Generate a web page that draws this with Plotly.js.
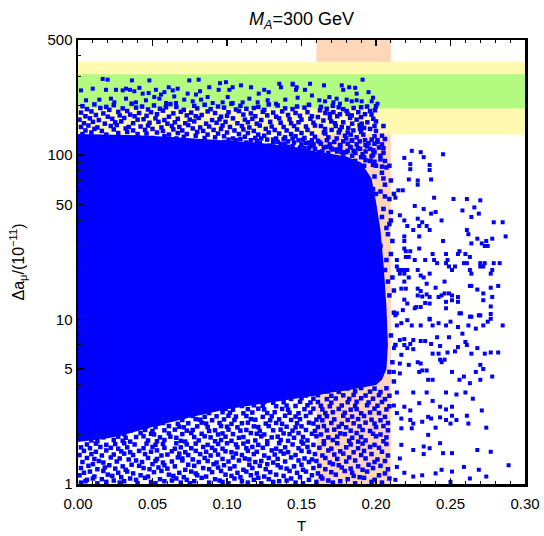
<!DOCTYPE html>
<html>
<head>
<meta charset="utf-8">
<script src="https://cdn.plot.ly/plotly-3.0.1.min.js"></script>
<style>html,body{margin:0;padding:0;background:#fff;}#chart{width:544px;height:536px;}</style>
</head>
<body>
<div id="chart"></div>
<script>
// Experimental bands for Delta a_mu (in 10^-11)
const band1sigma = [192, 310];
const band2sigma = [133, 369];
// T band
const tBand = [0.16, 0.21];

// Outline of the saturated (fully covered) region of the scan
const coreOutline = [
  [0,134],[0.02,133],[0.04,132],[0.06,129],[0.08,126],[0.10,123],[0.12,119],[0.14,113],[0.15,109],[0.16,105],
  [0.17,102],[0.18,98],[0.19,90],[0.197,72],[0.2,52],[0.203,35],[0.205,22],[0.207,12],[0.208,7],[0.207,5],
  [0.204,4.3],[0.2,4.0],[0.19,3.85],[0.18,3.7],[0.17,3.6],[0.16,3.45],[0.15,3.35],[0.14,3.25],[0.12,3.05],[0.10,2.85],
  [0.08,2.6],[0.06,2.35],[0.04,2.1],[0.03,1.98],[0.02,1.9],[0.01,1.84],[0,1.8]
];

// Upper fringe points (green band)
const topGreen = [
  [0.0166,290],[0.0199,287],[0.0362,284],[0.0479,284],[0.0747,284],[0.081,287],[0.0953,273],[0.0993,277],[0.002,247],[0.0099,253],
  [0.0188,249],[0.0255,249],[0.030,247],[0.0322,253],[0.0349,249],[0.0378,244],[0.0412,256],[0.0434,236],[0.0474,238],[0.0523,249],
  [0.0557,233],[0.058,241],[0.0609,258],[0.0636,247],[0.0669,253],[0.0736,236],[0.0792,233],[0.0819,244],[0.0881,258],[0.0944,249],
  [0.1016,249],[0.1038,258],[0.1094,265],[0.1161,258],[0.1213,236],[0.125,249],[0.128,241],[0.1351,271],[0.1362,258],[0.1441,268],
  [0.1463,249],[0.0054,215],[0.0143,217],[0.0221,220],[0.0244,209],[0.0322,220],[0.0389,209],[0.0456,215],[0.0512,225],[0.0546,220],
  [0.0591,207],[0.0646,227],[0.0658,207],[0.0713,217],[0.077,212],[0.0826,217],[0.087,225],[0.0904,207],[0.0971,209],[0.1005,225],
  [0.1038,207],[0.1105,209],[0.115,220],[0.1206,209],[0.1273,215],[0.1329,205],[0.1391,217],[0.1474,223],
  [0.1441,271],[0.1468,258],[0.1523,249],[0.1557,271],[0.1651,265],[0.177,265],[0.178,249],[0.182,258],[0.186,256],[0.187,236],
  [0.191,287],[0.195,241],[0.198,223],[0.201,205],[0.157,230],[0.162,215],[0.1658,212],[0.1687,225],[0.1714,209],[0.1736,220],
  [0.1758,205],[0.1803,217],[0.1837,212],[0.187,215],[0.1904,212],[0.1971,212]
];

// Upper fringe points (between the saturated region and the green band)
const topFringe = [
  [0.003,198],[0.011,203],[0.019,196],[0.024,201],[0.036,205],[0.043,197],[0.051,200],[0.062,204],[0.066,196],[0.078,199],
  [0.085,202],[0.094,197],[0.103,205],[0.109,199],[0.121,196],[0.128,203],[0.134,200],[0.147,197],[0.155,202],
  [0.006,190],[0.015,193],[0.021,188],[0.030,192],[0.039,194],[0.047,189],[0.055,191],[0.059,195],[0.071,188],[0.080,192],
  [0.089,190],[0.098,194],[0.106,189],[0.113,191],[0.118,193],[0.125,188],[0.139,192],[0.144,190],[0.152,194],
  [0.002,181],[0.009,184],[0.017,179],[0.027,183],[0.033,185],[0.041,180],[0.049,182],[0.057,186],[0.064,179],[0.069,183],
  [0.076,181],[0.087,184],[0.092,180],[0.101,182],[0.108,185],[0.116,179],[0.124,183],[0.131,181],[0.137,184],[0.146,180],[0.154,182],
  [0.005,172],[0.012,175],[0.020,171],[0.028,174],[0.035,176],[0.038,172],[0.046,173],[0.053,177],[0.061,171],[0.073,174],
  [0.079,172],[0.083,175],[0.096,171],[0.100,173],[0.111,176],[0.119,172],[0.127,174],[0.133,171],[0.141,175],[0.149,173],[0.157,172],
  [0.001,164],[0.008,167],[0.014,163],[0.023,166],[0.031,168],[0.040,164],[0.044,165],[0.052,167],[0.058,163],[0.067,166],
  [0.075,164],[0.081,168],[0.090,163],[0.095,165],[0.104,167],[0.112,164],[0.117,166],[0.123,163],[0.135,167],[0.142,165],[0.150,164],[0.156,166],
  [0.004,156],[0.010,159],[0.018,155],[0.025,158],[0.029,160],[0.037,156],[0.048,157],[0.054,159],[0.060,155],[0.065,158],
  [0.072,156],[0.078,160],[0.086,155],[0.093,157],[0.099,159],[0.107,156],[0.114,158],[0.120,155],[0.129,159],[0.136,157],[0.143,156],[0.148,158],[0.158,157],
  [0.002,148],[0.007,151],[0.013,147],[0.022,150],[0.026,152],[0.034,148],[0.042,149],[0.047,151],[0.056,147],[0.063,150],
  [0.068,148],[0.074,152],[0.082,147],[0.088,149],[0.097,151],[0.102,148],[0.110,150],[0.115,147],[0.122,151],[0.130,149],[0.138,148],[0.145,150],[0.153,149],[0.159,151],
  [0.005,141],[0.011,144],[0.016,140],[0.024,143],[0.032,145],[0.037,141],[0.045,142],[0.050,144],[0.057,140],[0.064,143],
  [0.070,141],[0.077,145],[0.084,140],[0.091,142],[0.096,144],[0.105,141],[0.111,143],[0.118,140],[0.126,144],[0.132,142],[0.140,141],[0.147,143],[0.154,142],
  [0.003,134],[0.009,137],[0.019,133],[0.027,136],[0.033,138],[0.040,134],[0.046,135],[0.053,137],[0.061,133],[0.067,136],
  [0.073,134],[0.080,138],[0.087,133],[0.094,135],[0.100,137],[0.108,134],[0.114,136],[0.121,133],[0.128,137],[0.135,135],[0.143,134],[0.150,136],[0.157,135],
  [0.050,127],[0.058,130],[0.066,126],[0.071,129],[0.079,131],[0.085,127],[0.092,128],[0.098,130],[0.104,126],[0.112,129],
  [0.119,127],[0.125,131],[0.133,126],[0.139,128],[0.146,130],[0.152,127],[0.159,129],
  [0.098,120],[0.106,123],[0.113,119],[0.120,122],[0.127,124],[0.134,120],[0.141,121],[0.148,123],[0.155,119],
  [0.128,114],[0.136,117],[0.144,113],[0.150,116],[0.158,115],[0.147,108],[0.155,110],
  [0.101,124],[0.109,125],[0.116,123],[0.123,126],[0.131,124],[0.138,125],[0.144,126],[0.151,124],[0.157,123],
  [0.122,118],[0.131,119],[0.139,117],[0.145,119],[0.153,118],[0.141,112],[0.149,111],[0.156,113]
];

// Points in the T band above / beside the saturated region
const bandPts = [
  [0.1624,187],[0.1669,191],[0.1714,182],[0.1758,177],[0.1803,185],[0.1837,174],[0.1881,182],[0.1926,177],[0.196,185],[0.1993,187],
  [0.1647,162],[0.1691,168],[0.1725,156],[0.178,158],[0.1826,168],[0.187,164],[0.1904,155],[0.1942,158],[0.1982,166],[0.1658,144],
  [0.1702,142],[0.1758,142],[0.1814,146],[0.1848,141],[0.1893,144],[0.1915,133],[0.196,144],[0.2,140],[0.168,128],[0.1736,126],
  [0.1792,131],[0.1837,123],[0.187,128],[0.1926,123],[0.1971,124],[0.2009,120],[0.1669,112],[0.1758,114],[0.1826,112],[0.1893,109],
  [0.1982,107],[0.164,105],[0.171,108],[0.177,104],[0.185,106],[0.191,101],[0.194,113],[0.205,110],[0.162,120],[0.166,135],
  [0.173,150],[0.181,137],[0.189,152],[0.199,150],[0.204,131],[0.161,170],[0.169,178],[0.185,193],[0.194,197],[0.175,195],
  [0.163,196],[0.171,199],[0.178,190],[0.190,195],[0.200,198],[0.166,180],[0.174,172],[0.181,178],[0.190,170],[0.197,176],
  [0.163,150],[0.170,160],[0.177,148],[0.184,155],[0.192,146],[0.200,160],[0.205,150],[0.165,137],[0.175,137],[0.183,133],
  [0.190,138],[0.199,130],[0.206,125],[0.172,120],[0.180,126],[0.195,118],
  [0.161,122],[0.167,123],[0.178,121],[0.184,122],[0.189,121],[0.201,123],
  [0.158,116],[0.163,117],[0.169,116],[0.176,115],[0.181,117],[0.187,116],[0.193,115],[0.199,117],[0.204,116],
  [0.152,110],[0.159,109],[0.165,111],[0.170,110],[0.176,109],[0.183,111],[0.188,110],[0.196,109],[0.202,111],
  [0.162,104],[0.168,103],[0.174,105],[0.180,104],[0.186,103],[0.193,105],[0.199,104],[0.205,103],
  [0.178,98],[0.184,99],[0.190,97],[0.197,98],[0.203,99],[0.186,92],[0.193,93],[0.199,91],[0.206,92],
  [0.192,86],[0.198,87],[0.204,85],[0.209,86],
  [0.196,92],[0.2,86],[0.204,78],[0.199,74],[0.206,66],[0.203,60],[0.209,54],[0.205,47],[0.21,40],[0.207,36],
  [0.211,30],[0.192,97],[0.186,103],[0.181,106],[0.174,108],[0.198,100],[0.203,94],[0.207,84],[0.21,70],[0.212,58],
  [0.205,72],[0.198,62],[0.206,56],[0.2,58],[0.21,45],[0.204,42],[0.208,33],[0.203,28],[0.21,25],[0.206,20],
  [0.211,18],[0.209,14],[0.212,11],[0.21,8],[0.213,7],[0.211,5.5],[0.209,4.8],[0.212,4.2],[0.209,38],[0.207,23],
  [0.208,17],[0.212,15]
];

// Sparse points with T > 0.21
const rightPts = [
  [0.219,96],[0.224,106],[0.230,104],[0.232,97],[0.245,101],[0.223,88],[0.223,82],[0.236,87],[0.236,81],[0.222,71],
  [0.228,70],[0.228,66],[0.237,71],[0.215,61],[0.218,61],[0.239,55],[0.252,54],[0.261,54],[0.270,53],[0.213,55],
  [0.226,49],[0.232,47],[0.237,44],[0.240,45],[0.258,46],[0.266,48],[0.269,44],[0.216,43],[0.244,40],[0.264,42],
  [0.279,39],[0.285,39],[0.287,32],[0.219,40],[0.221,37],[0.228,41],[0.231,39],[0.225,35],[0.229,37],[0.234,37],
  [0.236,35],[0.219,32],[0.219,30],[0.229,32],[0.245,30],[0.261,35],[0.262,33],[0.268,31],[0.274,30],[0.271,29],
  [0.273,28],[0.275,28],[0.264,29],[0.278,31],[0.219,27],[0.220,26],[0.223,26],[0.229,27],[0.214,23],[0.220,24],
  [0.222,24],[0.226,23],[0.233,23],[0.238,25],[0.239,23],[0.241,22],[0.247,25],[0.248,23],[0.256,26],[0.255,25],
  [0.260,25],[0.263,24],[0.253,21],[0.251,20],[0.247,22],[0.249,21],[0.259,22],[0.261,22],[0.270,22],[0.273,22],
  [0.270,21],[0.279,22],[0.283,22],[0.278,20],[0.214,21],[0.215,20],[0.217,20],[0.219,20],[0.221,20],[0.216,19],
  [0.219,19],[0.222,18],[0.228,20],[0.230,18.5],[0.232,18],[0.236,19],[0.234,16.5],[0.246,17],[0.263,20],[0.264,19],
  [0.264,16],[0.272,21],[0.277,19],[0.282,16],[0.277,15.6],[0.219,17],[0.217,15.4],[0.220,15.4],[0.228,15.4],[0.230,14.9],
  [0.228,14],[0.231,13.8],[0.234,14.2],[0.236,13.7],[0.240,15.6],[0.242,13.7],[0.244,14],[0.246,14.4],[0.249,14.4],[0.251,14],
  [0.247,12.8],[0.251,13.1],[0.255,13.7],[0.255,12.8],[0.219,13.2],[0.221,12.5],[0.227,11.9],[0.230,11.9],[0.233,12.6],[0.236,12.5],
  [0.247,11.7],[0.257,10.9],[0.263,10.4],[0.269,10.6],[0.277,10.8],[0.277,12],[0.278,13.7],[0.272,14.4],[0.268,15.2],[0.263,16],
  [0.272,13.1],[0.214,10.9],[0.218,11.4],[0.226,11.7],[0.236,10.1],
  [0.213,10.6],[0.214,9.2],[0.217,9.5],[0.221,9.9],[0.224,9.2],[0.230,9.2],[0.236,10],[0.238,9.2],[0.242,9.5],[0.247,9.2],
  [0.250,9.7],[0.256,10.9],[0.255,9.0],[0.258,8.2],[0.262,9.2],[0.264,10.4],[0.270,10.6],[0.267,8.8],[0.272,9.2],[0.275,9.7],
  [0.277,10.1],[0.285,9.2],
  [0.216,7.5],[0.219,7.6],[0.223,7.1],[0.225,7.5],[0.230,7.4],[0.233,7.4],[0.237,7.1],[0.241,7.8],[0.243,6.9],[0.249,7.8],
  [0.255,6.8],[0.261,7.0],[0.260,7.3],[0.264,6.2],[0.268,6.7],[0.273,6.2],[0.277,6.3],[0.282,6.3],[0.219,7.0],[0.225,6.6],
  [0.221,6.7],[0.212,6.7],
  [0.228,5.5],[0.230,5.4],[0.231,4.9],[0.229,4.8],[0.234,4.9],[0.235,4.3],[0.238,4.3],[0.238,6.2],[0.243,5.7],[0.246,5.7],
  [0.244,5.5],[0.242,6.2],[0.248,6.3],[0.251,4.8],[0.256,4.3],[0.259,4.5],[0.263,4.1],[0.267,4.8],[0.270,5.3],[0.270,4.3],
  [0.272,5.0],[0.278,4.5],[0.217,6.1],[0.216,5.4],[0.212,4.8],[0.216,4.7],[0.222,5.3],[0.253,6.4],
  [0.225,3.6],[0.229,3.1],[0.234,3.6],[0.238,3.2],[0.243,2.95],[0.247,3.6],[0.251,2.95],[0.254,3.5],[0.260,3.6],[0.265,3.3],
  [0.271,2.8],[0.214,3.6],[0.212,3.0],[0.219,2.95],[0.223,2.8],
  [0.214,2.7],[0.217,2.5],[0.223,2.45],[0.225,2.33],[0.231,2.39],[0.235,2.56],[0.237,2.5],[0.243,2.54],[0.247,2.45],[0.251,2.6],
  [0.247,2.84],[0.254,2.45],[0.261,2.6],[0.262,2.33],[0.274,2.2],[0.217,2.18],[0.224,2.18],[0.240,2.2],[0.235,1.99],[0.250,2.33],
  [0.217,1.73],[0.225,1.61],[0.232,1.69],[0.232,1.52],[0.236,1.65],[0.243,1.77],[0.245,1.54],[0.251,1.54],[0.268,1.61],[0.277,1.57],
  [0.289,1.30],[0.216,1.43],[0.214,1.27],[0.219,1.17],[0.225,1.11],[0.231,1.13],[0.240,1.16],[0.244,1.22],[0.250,1.03],[0.251,1.19],
  [0.259,1.27],[0.263,1.08],[0.269,1.22],[0.274,1.11],[0.213,1.06]
];

// Lower fringe points (below the saturated region)
const bottomPts = [
  [0.002,1.02],[0.005,1.04],[0.013,1.01],[0.019,1.03],[0.028,1.02],[0.031,1.04],[0.040,1.01],[0.049,1.03],[0.052,1.01],[0.058,1.04],
  [0.069,1.02],[0.075,1.01],[0.078,1.04],[0.088,1.02],[0.097,1.03],[0.101,1.01],[0.110,1.04],[0.114,1.02],[0.123,1.01],[0.131,1.03],
  [0.135,1.04],[0.146,1.02],[0.151,1.01],[0.160,1.03],[0.171,1.02],[0.176,1.04],[0.186,1.01],[0.197,1.03],[0.204,1.02],
  [0.006,1.06],[0.010,1.08],[0.016,1.07],[0.024,1.05],[0.035,1.08],[0.039,1.06],[0.045,1.09],[0.055,1.07],[0.063,1.05],[0.066,1.08],
  [0.073,1.06],[0.083,1.09],[0.092,1.07],[0.095,1.05],[0.105,1.08],[0.118,1.06],[0.121,1.09],[0.128,1.07],[0.140,1.05],[0.143,1.08],
  [0.155,1.06],[0.164,1.08],[0.168,1.05],[0.181,1.07],[0.192,1.09],[0.199,1.06],[0.209,1.08],
  [0.001,1.13],[0.011,1.11],[0.020,1.14],[0.023,1.12],[0.029,1.10],[0.042,1.13],[0.047,1.11],[0.061,1.14],[0.064,1.12],[0.071,1.10],
  [0.080,1.13],[0.086,1.11],[0.099,1.14],[0.103,1.12],[0.109,1.10],[0.116,1.13],[0.125,1.11],[0.133,1.14],[0.138,1.12],[0.149,1.10],
  [0.157,1.13],[0.163,1.11],[0.173,1.14],[0.185,1.12],[0.189,1.10],[0.202,1.13],
  [0.004,1.17],[0.008,1.19],[0.017,1.20],[0.027,1.17],[0.033,1.19],[0.037,1.16],[0.051,1.18],[0.056,1.20],[0.068,1.17],[0.076,1.19],
  [0.079,1.16],[0.090,1.18],[0.096,1.20],[0.107,1.17],[0.113,1.19],[0.120,1.16],[0.129,1.18],[0.142,1.20],[0.147,1.17],[0.153,1.19],
  [0.161,1.16],[0.170,1.18],[0.179,1.20],[0.184,1.17],[0.194,1.19],[0.206,1.16],
  [0.002,1.25],[0.013,1.23],[0.018,1.26],[0.025,1.24],[0.032,1.22],[0.044,1.25],[0.048,1.23],[0.054,1.26],[0.060,1.24],[0.072,1.22],
  [0.084,1.25],[0.088,1.23],[0.094,1.26],[0.102,1.24],[0.111,1.22],[0.117,1.25],[0.126,1.23],[0.136,1.26],[0.140,1.24],[0.151,1.22],
  [0.158,1.25],[0.166,1.23],[0.177,1.26],[0.183,1.24],[0.191,1.22],[0.198,1.25],[0.208,1.23],
  [0.007,1.29],[0.010,1.32],[0.021,1.30],[0.030,1.28],[0.036,1.31],[0.041,1.29],[0.050,1.32],[0.058,1.30],[0.065,1.28],[0.074,1.31],
  [0.078,1.29],[0.091,1.32],[0.098,1.30],[0.105,1.28],[0.115,1.31],[0.122,1.29],[0.127,1.32],[0.134,1.30],[0.145,1.28],[0.150,1.31],
  [0.162,1.29],[0.171,1.32],[0.175,1.30],[0.188,1.28],[0.195,1.31],[0.203,1.29],
  [0.003,1.36],[0.014,1.38],[0.017,1.35],[0.026,1.37],[0.039,1.39],[0.043,1.36],[0.052,1.38],[0.057,1.35],[0.063,1.37],[0.070,1.39],
  [0.081,1.36],[0.087,1.38],[0.093,1.35],[0.101,1.37],[0.108,1.39],[0.119,1.36],[0.123,1.38],[0.131,1.35],[0.139,1.37],[0.148,1.39],
  [0.155,1.36],[0.160,1.38],[0.169,1.35],[0.180,1.37],[0.186,1.39],[0.199,1.36],[0.206,1.38],
  [0.006,1.44],[0.011,1.42],[0.022,1.45],[0.028,1.43],[0.034,1.41],[0.047,1.44],[0.053,1.42],[0.067,1.45],[0.070,1.43],[0.077,1.41],
  [0.085,1.44],[0.097,1.42],[0.104,1.45],[0.112,1.43],[0.115,1.41],[0.128,1.44],[0.134,1.42],[0.143,1.45],[0.152,1.43],[0.157,1.41],
  [0.166,1.44],[0.174,1.42],[0.182,1.45],[0.193,1.43],[0.201,1.41],
  [0.001,1.50],[0.009,1.52],[0.016,1.49],[0.024,1.51],[0.031,1.53],[0.037,1.50],[0.045,1.52],[0.056,1.49],[0.060,1.51],[0.068,1.53],
  [0.074,1.50],[0.082,1.52],[0.089,1.49],[0.094,1.51],[0.106,1.53],[0.110,1.50],[0.118,1.52],[0.125,1.49],[0.132,1.51],[0.138,1.53],
  [0.146,1.50],[0.159,1.52],[0.164,1.49],[0.172,1.51],[0.178,1.53],[0.190,1.50],[0.197,1.52],[0.208,1.49],
  [0.004,1.59],[0.012,1.57],[0.019,1.60],[0.029,1.58],[0.035,1.56],[0.041,1.59],[0.049,1.57],[0.053,1.60],[0.063,1.58],[0.072,1.56],
  [0.079,1.59],[0.086,1.57],[0.092,1.60],[0.099,1.58],[0.103,1.56],[0.114,1.59],[0.120,1.57],[0.130,1.60],[0.136,1.58],[0.141,1.56],
  [0.150,1.59],[0.155,1.57],[0.168,1.60],[0.176,1.58],[0.185,1.56],[0.192,1.59],[0.204,1.57],
  [0.002,1.67],[0.008,1.65],[0.015,1.68],[0.022,1.66],[0.027,1.64],[0.033,1.67],[0.044,1.65],[0.050,1.68],[0.058,1.66],[0.065,1.64],
  [0.069,1.67],[0.076,1.65],[0.084,1.68],[0.090,1.66],[0.097,1.64],[0.107,1.67],[0.113,1.65],[0.117,1.68],[0.124,1.66],[0.133,1.64],
  [0.139,1.67],[0.148,1.65],[0.154,1.68],[0.162,1.66],[0.170,1.64],[0.180,1.67],[0.188,1.65],[0.196,1.68],[0.202,1.66],
  [0.006,1.74],[0.012,1.76],[0.019,1.73],[0.025,1.75],[0.031,1.77],[0.038,1.74],[0.046,1.76],[0.052,1.73],[0.057,1.75],[0.066,1.77],
  [0.073,1.74],[0.079,1.76],[0.087,1.73],[0.094,1.75],[0.100,1.77],[0.106,1.74],[0.111,1.76],[0.121,1.73],[0.127,1.75],[0.135,1.77],
  [0.144,1.74],[0.151,1.76],[0.158,1.73],[0.165,1.75],[0.174,1.77],[0.183,1.74],[0.191,1.76],[0.199,1.73],[0.207,1.75],
  [0.009,1.84],[0.013,1.82],[0.024,1.85],[0.030,1.83],[0.035,1.81],[0.047,1.84],[0.053,1.82],[0.058,1.85],[0.069,1.83],[0.072,1.81],
  [0.081,1.84],[0.092,1.82],[0.096,1.85],[0.103,1.83],[0.114,1.81],[0.119,1.84],[0.127,1.82],[0.136,1.85],[0.141,1.83],[0.150,1.81],
  [0.154,1.84],[0.165,1.82],[0.171,1.85],[0.182,1.83],[0.188,1.81],[0.193,1.84],[0.205,1.82],
  [0.017,1.92],[0.027,1.94],[0.032,1.91],[0.039,1.93],[0.044,1.95],[0.055,1.92],[0.062,1.94],[0.066,1.91],[0.078,1.93],[0.085,1.95],
  [0.089,1.92],[0.099,1.94],[0.108,1.91],[0.111,1.93],[0.123,1.95],[0.130,1.92],[0.134,1.94],[0.145,1.91],[0.151,1.93],[0.160,1.95],
  [0.168,1.92],[0.174,1.94],[0.184,1.91],[0.190,1.93],[0.200,1.95],[0.207,1.92],
  [0.026,2.03],[0.031,2.01],[0.042,2.04],[0.049,2.02],[0.051,2.00],[0.061,2.03],[0.070,2.01],[0.076,2.04],[0.083,2.02],[0.094,2.00],
  [0.097,2.03],[0.104,2.01],[0.116,2.04],[0.120,2.02],[0.125,2.00],[0.138,2.03],[0.142,2.01],[0.148,2.04],[0.157,2.02],[0.163,2.00],
  [0.176,2.03],[0.179,2.01],[0.187,2.04],[0.198,2.02],[0.203,2.00],
  [0.035,2.11],[0.045,2.13],[0.050,2.10],[0.058,2.12],[0.065,2.14],[0.073,2.11],[0.077,2.13],[0.088,2.10],[0.092,2.12],[0.101,2.14],
  [0.109,2.11],[0.113,2.13],[0.122,2.10],[0.131,2.12],[0.136,2.14],[0.144,2.11],[0.153,2.13],[0.159,2.10],[0.167,2.12],[0.172,2.14],
  [0.183,2.11],[0.191,2.13],[0.196,2.10],[0.208,2.12],
  [0.046,2.24],[0.052,2.22],[0.061,2.25],[0.068,2.23],[0.071,2.21],[0.080,2.24],[0.087,2.22],[0.096,2.25],[0.100,2.23],[0.107,2.21],
  [0.118,2.24],[0.121,2.22],[0.128,2.25],[0.140,2.23],[0.146,2.21],[0.150,2.24],[0.161,2.22],[0.165,2.25],[0.175,2.23],[0.180,2.21],
  [0.189,2.24],[0.200,2.22],[0.205,2.25],
  [0.054,2.33],[0.057,2.35],[0.067,2.32],[0.074,2.34],[0.083,2.36],[0.086,2.33],[0.095,2.35],[0.103,2.32],[0.110,2.34],[0.114,2.36],
  [0.126,2.33],[0.133,2.35],[0.137,2.32],[0.147,2.34],[0.155,2.36],[0.158,2.33],[0.170,2.35],[0.177,2.32],[0.185,2.34],[0.193,2.36],
  [0.199,2.33],[0.208,2.35],
  [0.062,2.47],[0.070,2.45],[0.079,2.48],[0.082,2.46],[0.090,2.44],[0.098,2.47],[0.105,2.45],[0.116,2.48],[0.119,2.46],[0.129,2.44],
  [0.135,2.47],[0.143,2.45],[0.149,2.48],[0.160,2.46],[0.164,2.44],[0.172,2.47],[0.181,2.45],[0.188,2.48],[0.197,2.46],[0.203,2.44],
  [0.071,2.57],[0.077,2.59],[0.085,2.56],[0.093,2.58],[0.101,2.60],[0.106,2.57],[0.113,2.59],[0.124,2.56],[0.130,2.58],[0.139,2.60],
  [0.146,2.57],[0.153,2.59],[0.162,2.56],[0.167,2.58],[0.178,2.60],[0.184,2.57],[0.192,2.59],[0.206,2.56],
  [0.081,2.72],[0.088,2.70],[0.097,2.73],[0.102,2.71],[0.111,2.69],[0.117,2.72],[0.127,2.70],[0.132,2.73],[0.142,2.71],[0.148,2.69],
  [0.156,2.72],[0.166,2.70],[0.171,2.73],[0.179,2.71],[0.190,2.69],[0.196,2.72],[0.202,2.70],
  [0.091,2.84],[0.099,2.86],[0.104,2.83],[0.114,2.85],[0.121,2.87],[0.125,2.84],[0.137,2.86],[0.141,2.83],[0.152,2.85],[0.158,2.87],
  [0.164,2.84],[0.175,2.86],[0.183,2.83],[0.187,2.85],[0.199,2.87],[0.207,2.84],
  [0.102,3.00],[0.110,2.98],[0.118,3.01],[0.124,2.99],[0.133,2.97],[0.140,3.00],[0.146,2.98],[0.154,3.01],[0.163,2.99],[0.169,2.97],
  [0.177,3.00],[0.186,2.98],[0.194,3.01],[0.201,2.99],[0.209,2.97],
  [0.116,3.13],[0.125,3.15],[0.131,3.12],[0.138,3.14],[0.149,3.16],[0.156,3.13],[0.161,3.15],[0.170,3.12],[0.181,3.14],[0.187,3.16],
  [0.195,3.13],[0.204,3.15],
  [0.134,3.31],[0.143,3.29],[0.150,3.32],[0.158,3.30],[0.167,3.28],[0.173,3.31],[0.182,3.29],[0.190,3.32],[0.198,3.30],[0.206,3.28],
  [0.153,3.45],[0.161,3.47],[0.170,3.44],[0.178,3.46],[0.185,3.48],[0.193,3.45],[0.202,3.47],[0.209,3.44],
  [0.167,3.65],[0.175,3.63],[0.186,3.66],[0.196,3.64],[0.203,3.62],
  [0.181,3.81],[0.190,3.83],[0.199,3.80],[0.207,3.82]
];

const xTickVals = [0, 0.05, 0.10, 0.15, 0.20, 0.25, 0.30];
const yTickVals = [1, 5, 10, 50, 100, 500];
const yTickText = ['1', '5', '10', '50', '100', '500'];
const yMinorVals = [2,3,4,6,7,8,9,20,30,40,60,70,80,90,200,300,400];

const densePts = topFringe.concat(bandPts, bottomPts);
const sparsePts = topGreen.concat(rightPts);

const BLUE = '#0000FF';
const FONT = 'Liberation Sans, Arial, Helvetica, sans-serif';

const traces = [
  {
    type: 'scatter', mode: 'lines',
    x: coreOutline.map(p => p[0]), y: coreOutline.map(p => p[1]),
    fill: 'toself', fillcolor: BLUE, line: {width: 0, color: BLUE},
    hoverinfo: 'skip', showlegend: false
  },
  {
    type: 'scatter', mode: 'markers',
    x: densePts.map(p => p[0]), y: densePts.map(p => p[1]),
    marker: {symbol: 'square', size: 4.5, color: BLUE, line: {width: 0}},
    hoverinfo: 'skip', showlegend: false
  },
  {
    type: 'scatter', mode: 'markers',
    x: sparsePts.map(p => p[0]), y: sparsePts.map(p => p[1]),
    marker: {symbol: 'square', size: 4, color: BLUE, line: {width: 0}},
    hoverinfo: 'skip', showlegend: false
  }
];

const layout = {
  width: 544, height: 536,
  margin: {l: 78, r: 19, t: 40, b: 52},
  paper_bgcolor: '#ffffff', plot_bgcolor: '#ffffff',
  font: {family: FONT, size: 15, color: '#000'},
  showlegend: false,
  hovermode: false,
  title: {
    text: '<i>M</i><sub><i>A</i></sub>=300 GeV',
    font: {family: FONT, size: 18, color: '#000'},
    x: 0.5, xref: 'paper', y: 0.965, yref: 'container', yanchor: 'middle'
  },
  xaxis: {
    range: [0, 0.3], tickvals: xTickVals, tickformat: '.2f',
    ticks: 'inside', ticklen: 6, tickwidth: 1.3, tickcolor: '#000',
    minor: {dtick: 0.01, tick0: 0, ticks: 'inside', ticklen: 3, tickwidth: 1, tickcolor: '#000'},
    mirror: 'allticks', showline: true, linecolor: '#000', linewidth: 2.5,
    showgrid: false, zeroline: false, ticklabelstandoff: 4,
    tickfont: {family: FONT, size: 15, color: '#000'},
    title: {text: 'T', font: {family: FONT, size: 15, color: '#000'}, standoff: 10}
  },
  yaxis: {
    type: 'log', range: [0, Math.log10(500)],
    tickvals: yTickVals, ticktext: yTickText,
    ticks: 'inside', ticklen: 6, tickwidth: 1.3, tickcolor: '#000',
    minor: {tickvals: yMinorVals, ticks: 'inside', ticklen: 3, tickwidth: 1, tickcolor: '#000'},
    mirror: true, showline: true, linecolor: '#000', linewidth: 2.5,
    showgrid: false, zeroline: false,
    tickfont: {family: FONT, size: 15, color: '#000'},
    title: {text: 'Δa<sub>μ</sub>/(10<sup>−11</sup>)', font: {family: FONT, size: 16, color: '#000'}, standoff: 19}
  },
  shapes: [
    {type: 'rect', layer: 'below', xref: 'x', yref: 'y', x0: 0, x1: 0.3, y0: band2sigma[0], y1: band2sigma[1],
     fillcolor: '#FFFAB0', line: {width: 0}},
    {type: 'rect', layer: 'below', xref: 'x', yref: 'y', x0: 0, x1: 0.3, y0: band1sigma[0], y1: band1sigma[1],
     fillcolor: '#B2FA80', line: {width: 0}},
    {type: 'rect', layer: 'below', xref: 'x', yref: 'paper', x0: tBand[0], x1: tBand[1], y0: 0, y1: 1,
     fillcolor: 'rgba(250,140,50,0.35)', line: {width: 0}}
  ]
};

Plotly.newPlot('chart', traces, layout, {displayModeBar: false, staticPlot: true});
</script>
</body>
</html>
